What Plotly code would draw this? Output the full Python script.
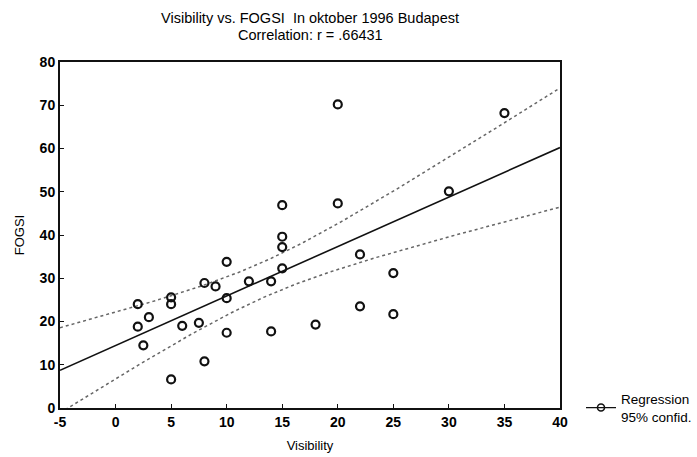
import numpy as np
import plotly.graph_objects as go

visibility = [2, 2, 3, 2.5, 5, 5, 5, 6, 7.5, 8, 8, 9, 10, 10, 10, 12, 14, 14,
              15, 15, 15, 15, 20, 35, 20, 30, 22, 25, 22, 25, 18]
fogsi = [24, 18.8, 21, 14.5, 25.6, 24, 6.6, 19, 19.7, 28.9, 10.8, 28.1, 33.8, 25.4, 17.4, 29.3, 29.3, 17.7,
         46.9, 39.6, 37.2, 32.3, 70.2, 68.2, 47.3, 50.1, 35.5, 31.2, 23.5, 21.7, 19.3]

x_ticks = [-5, 0, 5, 10, 15, 20, 25, 30, 35, 40]
y_ticks = [0, 10, 20, 30, 40, 50, 60, 70, 80]

title_line1 = "Visibility vs. FOGSI  In oktober 1996 Budapest"
title_line2 = "Correlation: r = .66431"

x = np.array(visibility, dtype=float)
y = np.array(fogsi, dtype=float)
n = len(x)
slope, intercept = np.polyfit(x, y, 1)
xs = np.linspace(-5, 40, 200)
yhat = intercept + slope * xs
resid = y - (intercept + slope * x)
s = np.sqrt(np.sum(resid ** 2) / (n - 2))
t_val = 2.045
se = s * np.sqrt(1.0 / n + (xs - x.mean()) ** 2 / np.sum((x - x.mean()) ** 2))
upper = yhat + t_val * se
lower = yhat - t_val * se

font_family = "Liberation Sans, Arial, sans-serif"

fig = go.Figure()
fig.add_trace(go.Scatter(x=xs, y=upper, mode="lines", line=dict(color="#666", width=1.5, dash="dot"),
                         showlegend=False, hoverinfo="skip"))
fig.add_trace(go.Scatter(x=xs, y=lower, mode="lines", line=dict(color="#666", width=1.5, dash="dot"),
                         showlegend=False, hoverinfo="skip"))
fig.add_trace(go.Scatter(x=xs, y=yhat, mode="lines", line=dict(color="#111", width=1.6),
                         showlegend=False, hoverinfo="skip"))
fig.add_trace(go.Scatter(x=x, y=y, mode="markers",
                         marker=dict(symbol="circle-open", size=8, color="#111", line=dict(width=2.2)),
                         showlegend=False))
fig.add_trace(go.Scatter(x=[None], y=[None], mode="lines+markers", name="Regression<br>95% confid.",
                         line=dict(color="#111", width=1.3),
                         marker=dict(symbol="circle-open", size=7, color="#111", line=dict(width=1.6))))

fig.update_layout(
    width=697, height=457,
    margin=dict(l=60, r=137, t=62, b=49, autoexpand=False),
    paper_bgcolor="white", plot_bgcolor="white",
    font=dict(family=font_family, size=13, color="#000"),
    title=dict(text=title_line1, x=(60 + 560) / 2 / 697, xanchor="center",
               y=1 - 18 / 457, yanchor="middle",
               font=dict(size=14.5, family=font_family, color="#000")),
    legend=dict(x=1.042, y=0.0, xanchor="left", yanchor="middle", bgcolor="rgba(0,0,0,0)",
                font=dict(size=13.5, family=font_family), itemwidth=30),
    showlegend=True,
)
fig.add_annotation(text=title_line2, xref="paper", yref="paper", x=0.5, y=1 + (62 - 35) / 346,
                   xanchor="center", yanchor="middle", showarrow=False,
                   font=dict(size=14.5, family=font_family, color="#000"))
fig.update_xaxes(range=[-5, 40], tickvals=x_ticks, ticktext=[str(v) for v in x_ticks],
                 showgrid=False, zeroline=False, showline=True, linecolor="#111", linewidth=2,
                 mirror=True, ticks="inside", ticklen=4, tickcolor="#111",
                 title=dict(text="Visibility", standoff=12, font=dict(size=13)),
                 tickfont=dict(size=14, weight="bold"))
fig.update_yaxes(range=[0, 80], tickvals=y_ticks, ticktext=[str(v) for v in y_ticks],
                 showgrid=False, zeroline=False, showline=True, linecolor="#111", linewidth=2,
                 mirror=True, ticks="inside", ticklen=4, tickcolor="#111",
                 title=dict(text="FOGSI", standoff=12, font=dict(size=13)),
                 tickfont=dict(size=14, weight="bold"))

fig.write_html("out.html")
